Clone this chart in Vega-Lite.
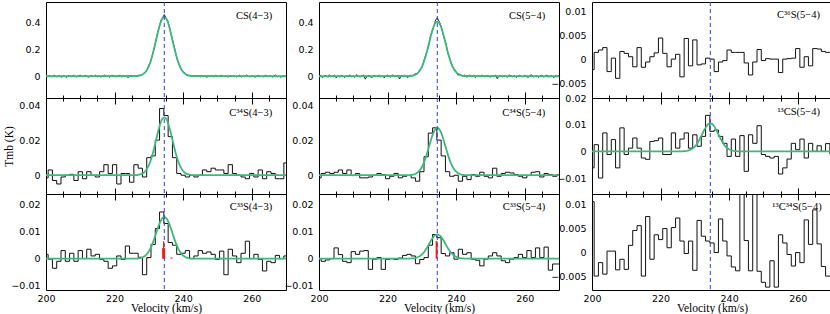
{
"$schema": "https://vega.github.io/schema/vega-lite/v6.json",
"padding": {"left": 3, "top": 1, "right": 0, "bottom": 0},
"config": {
 "view": {"stroke": "#000", "strokeWidth": 1, "fill": "transparent"},
 "axis": {"zindex": 1, "grid": false, "domain": false, "ticks": false, "tickColor": "#000", "tickWidth": 1, "labelFont": "DejaVu Sans", "labelFontSize": 9.5, "labelColor": "#000", "titleFont": "Liberation Serif", "titleFontSize": 11.5, "titleFontWeight": "normal", "titleColor": "#000", "labelOverlap": false, "labelBound": false}
},
"datasets": {
 "cs43": [{"v":200,"t":0.0045},{"v":200.5,"t":-0.003},{"v":201,"t":0.0075},{"v":201.5,"t":-0.006},{"v":202,"t":0.0015},{"v":202.5,"t":0.009},{"v":203,"t":-0.0045},{"v":203.5,"t":-0.0015},{"v":204,"t":0.006},{"v":204.5,"t":-0.0075},{"v":205,"t":0.003},{"v":205.5,"t":0},{"v":206,"t":-0.009},{"v":206.5,"t":0.0045},{"v":207,"t":0.0015},{"v":207.5,"t":-0.003},{"v":208,"t":0.0075},{"v":208.5,"t":-0.0015},{"v":209,"t":-0.006},{"v":209.5,"t":0.003},{"v":210,"t":0.009},{"v":210.5,"t":-0.0045},{"v":211,"t":0},{"v":211.5,"t":0.006},{"v":212,"t":-0.003},{"v":212.5,"t":-0.0075},{"v":213,"t":0.0045},{"v":213.5,"t":0.0015},{"v":214,"t":-0.0015},{"v":214.5,"t":0.0075},{"v":215,"t":-0.0045},{"v":215.5,"t":0.003},{"v":216,"t":-0.006},{"v":216.5,"t":0},{"v":217,"t":0.009},{"v":217.5,"t":-0.003},{"v":218,"t":0.0015},{"v":218.5,"t":-0.0075},{"v":219,"t":0.0045},{"v":219.5,"t":0.006},{"v":220,"t":-0.0015},{"v":220.5,"t":-0.0045},{"v":221,"t":0.003},{"v":221.5,"t":0.0075},{"v":222,"t":-0.006},{"v":222.5,"t":0},{"v":223,"t":0.0045},{"v":223.5,"t":-0.003},{"v":224,"t":-0.009},{"v":224.5,"t":0.0015},{"v":225,"t":0.006},{"v":225.5,"t":-0.0015},{"v":226,"t":0.003},{"v":226.5,"t":-0.001},{"v":227,"t":0.008},{"v":227.5,"t":0.006},{"v":228,"t":0.009},{"v":228.5,"t":0.023},{"v":229,"t":0.029},{"v":229.5,"t":0.052},{"v":230,"t":0.084},{"v":230.5,"t":0.107},{"v":231,"t":0.157},{"v":231.5,"t":0.206},{"v":232,"t":0.261},{"v":232.5,"t":0.322},{"v":233,"t":0.367},{"v":233.5,"t":0.418},{"v":234,"t":0.438},{"v":234.5,"t":0.462},{"v":235,"t":0.436},{"v":235.5,"t":0.416},{"v":236,"t":0.37},{"v":236.5,"t":0.312},{"v":237,"t":0.264},{"v":237.5,"t":0.211},{"v":238,"t":0.154},{"v":238.5,"t":0.109},{"v":239,"t":0.082},{"v":239.5,"t":0.051},{"v":240,"t":0.031},{"v":240.5,"t":0.026},{"v":241,"t":0.007},{"v":241.5,"t":0.007},{"v":242,"t":0.006},{"v":242.5,"t":-0.003},{"v":243,"t":0.003},{"v":243.5,"t":-0.0015},{"v":244,"t":0},{"v":244.5,"t":0.006},{"v":245,"t":-0.0045},{"v":245.5,"t":0.0075},{"v":246,"t":-0.003},{"v":246.5,"t":0.0015},{"v":247,"t":-0.009},{"v":247.5,"t":0.0045},{"v":248,"t":0},{"v":248.5,"t":0.003},{"v":249,"t":-0.006},{"v":249.5,"t":0.0075},{"v":250,"t":-0.0015},{"v":250.5,"t":-0.0045},{"v":251,"t":0.009},{"v":251.5,"t":0},{"v":252,"t":-0.003},{"v":252.5,"t":0.006},{"v":253,"t":-0.0075},{"v":253.5,"t":0.0015},{"v":254,"t":0.0045},{"v":254.5,"t":-0.0015},{"v":255,"t":0.003},{"v":255.5,"t":-0.006},{"v":256,"t":0},{"v":256.5,"t":0.0075},{"v":257,"t":-0.0045},{"v":257.5,"t":0.0015},{"v":258,"t":-0.003},{"v":258.5,"t":0.009},{"v":259,"t":-0.0015},{"v":259.5,"t":-0.006},{"v":260,"t":0.0045},{"v":260.5,"t":0},{"v":261,"t":-0.0075},{"v":261.5,"t":0.003},{"v":262,"t":0.006},{"v":262.5,"t":-0.003},{"v":263,"t":0.0015},{"v":263.5,"t":-0.0045},{"v":264,"t":0.0075},{"v":264.5,"t":0},{"v":265,"t":-0.0015},{"v":265.5,"t":0.0045},{"v":266,"t":-0.006},{"v":266.5,"t":0.003},{"v":267,"t":0.009},{"v":267.5,"t":-0.003},{"v":268,"t":0},{"v":268.5,"t":-0.0075},{"v":269,"t":0.0045},{"v":269.5,"t":0.0015},{"v":270,"t":-0.0015}],
 "cs54": [{"v":200,"t":-0.004},{"v":200.5,"t":0.008},{"v":201,"t":-0.01},{"v":201.5,"t":0.002},{"v":202,"t":0.006},{"v":202.5,"t":-0.007},{"v":203,"t":0.011},{"v":203.5,"t":-0.003},{"v":204,"t":0},{"v":204.5,"t":0.009},{"v":205,"t":-0.012},{"v":205.5,"t":0.004},{"v":206,"t":-0.006},{"v":206.5,"t":0.007},{"v":207,"t":0.001},{"v":207.5,"t":-0.009},{"v":208,"t":0.005},{"v":208.5,"t":-0.002},{"v":209,"t":0.01},{"v":209.5,"t":-0.005},{"v":210,"t":0.003},{"v":210.5,"t":-0.008},{"v":211,"t":0.012},{"v":211.5,"t":-0.001},{"v":212,"t":-0.006},{"v":212.5,"t":0.004},{"v":213,"t":0.009},{"v":213.5,"t":-0.022},{"v":214,"t":0.002},{"v":214.5,"t":0.006},{"v":215,"t":-0.004},{"v":215.5,"t":-0.009},{"v":216,"t":0.007},{"v":216.5,"t":0},{"v":217,"t":-0.003},{"v":217.5,"t":0.01},{"v":218,"t":-0.007},{"v":218.5,"t":0.005},{"v":219,"t":-0.012},{"v":219.5,"t":0.003},{"v":220,"t":0.008},{"v":220.5,"t":-0.002},{"v":221,"t":-0.006},{"v":221.5,"t":0.011},{"v":222,"t":-0.004},{"v":222.5,"t":0.001},{"v":223,"t":0.007},{"v":223.5,"t":-0.02},{"v":224,"t":0.004},{"v":224.5,"t":-0.001},{"v":225,"t":0.009},{"v":225.5,"t":-0.005},{"v":226,"t":-0.008},{"v":226.5,"t":0.008},{"v":227,"t":0.005},{"v":227.5,"t":0.003},{"v":228,"t":0.02},{"v":228.5,"t":0.012},{"v":229,"t":0.03},{"v":229.5,"t":0.052},{"v":230,"t":0.062},{"v":230.5,"t":0.106},{"v":231,"t":0.149},{"v":231.5,"t":0.186},{"v":232,"t":0.227},{"v":232.5,"t":0.298},{"v":233,"t":0.338},{"v":233.5,"t":0.372},{"v":234,"t":0.42},{"v":234.5,"t":0.438},{"v":235,"t":0.412},{"v":235.5,"t":0.385},{"v":236,"t":0.336},{"v":236.5,"t":0.285},{"v":237,"t":0.25},{"v":237.5,"t":0.18},{"v":238,"t":0.144},{"v":238.5,"t":0.102},{"v":239,"t":0.065},{"v":239.5,"t":0.054},{"v":240,"t":0.034},{"v":240.5,"t":0.008},{"v":241,"t":0.015},{"v":241.5,"t":0.007},{"v":242,"t":0},{"v":242.5,"t":0.01},{"v":243,"t":-0.007},{"v":243.5,"t":-0.002},{"v":244,"t":0.011},{"v":244.5,"t":-0.004},{"v":245,"t":0.006},{"v":245.5,"t":-0.009},{"v":246,"t":0},{"v":246.5,"t":0.003},{"v":247,"t":-0.006},{"v":247.5,"t":0.01},{"v":248,"t":-0.001},{"v":248.5,"t":-0.005},{"v":249,"t":0.007},{"v":249.5,"t":0.002},{"v":250,"t":-0.008},{"v":250.5,"t":0.005},{"v":251,"t":-0.003},{"v":251.5,"t":0.009},{"v":252,"t":-0.018},{"v":252.5,"t":0.004},{"v":253,"t":0.001},{"v":253.5,"t":-0.006},{"v":254,"t":0.008},{"v":254.5,"t":-0.002},{"v":255,"t":-0.007},{"v":255.5,"t":0.01},{"v":256,"t":0.003},{"v":256.5,"t":-0.004},{"v":257,"t":0.006},{"v":257.5,"t":-0.01},{"v":258,"t":0.002},{"v":258.5,"t":0.007},{"v":259,"t":-0.001},{"v":259.5,"t":-0.005},{"v":260,"t":0.009},{"v":260.5,"t":-0.003},{"v":261,"t":-0.008},{"v":261.5,"t":0.004},{"v":262,"t":0.011},{"v":262.5,"t":-0.006},{"v":263,"t":0},{"v":263.5,"t":0.005},{"v":264,"t":-0.009},{"v":264.5,"t":0.002},{"v":265,"t":0.007},{"v":265.5,"t":-0.004},{"v":266,"t":-0.002},{"v":266.5,"t":0.01},{"v":267,"t":-0.007},{"v":267.5,"t":0.003},{"v":268,"t":0.001},{"v":268.5,"t":-0.011},{"v":269,"t":0.006},{"v":269.5,"t":-0.003},{"v":270,"t":0.008}],
 "c34_43": [{"v":200,"t":-0.0015},{"v":201.25,"t":0.003},{"v":202.5,"t":-0.003},{"v":203.75,"t":-0.005},{"v":205,"t":-0.001},{"v":206.25,"t":0},{"v":207.5,"t":0.0005},{"v":208.75,"t":-0.003},{"v":210,"t":0.002},{"v":211.25,"t":-0.002},{"v":212.5,"t":0.002},{"v":213.75,"t":0},{"v":215,"t":-0.001},{"v":216.25,"t":0.002},{"v":217.5,"t":0.006},{"v":218.75,"t":0.001},{"v":220,"t":0.006},{"v":221.25,"t":-0.005},{"v":222.5,"t":0.001},{"v":223.75,"t":0.001},{"v":225,"t":-0.004},{"v":226.25,"t":0.006},{"v":227.5,"t":0.004},{"v":228.75,"t":-0.001},{"v":230,"t":0.01},{"v":231.25,"t":0.011},{"v":232.5,"t":0.02},{"v":233.75,"t":0.038},{"v":235,"t":0.034},{"v":236.25,"t":0.022},{"v":237.5,"t":0.01},{"v":238.75,"t":0.001},{"v":240,"t":0},{"v":241.25,"t":-0.001},{"v":242.5,"t":0},{"v":243.75,"t":-0.001},{"v":245,"t":0},{"v":246.25,"t":0.003},{"v":247.5,"t":0.002},{"v":248.75,"t":0.004},{"v":250,"t":0.003},{"v":251.25,"t":0.003},{"v":252.5,"t":0.001},{"v":253.75,"t":0.006},{"v":255,"t":0.001},{"v":256.25,"t":0},{"v":257.5,"t":-0.001},{"v":258.75,"t":-0.002},{"v":260,"t":0.001},{"v":261.25,"t":-0.001},{"v":262.5,"t":0.003},{"v":263.75,"t":-0.002},{"v":265,"t":0.002},{"v":266.25,"t":0.001},{"v":267.5,"t":-0.002},{"v":268.75,"t":-0.002},{"v":270,"t":0.007}],
 "c34_54": [{"v":200,"t":-0.0015},{"v":201.25,"t":0.001},{"v":202.5,"t":0.0017},{"v":203.75,"t":0.001},{"v":205,"t":0.0017},{"v":206.25,"t":0.003},{"v":207.5,"t":0.001},{"v":208.75,"t":0.003},{"v":210,"t":-0.0002},{"v":211.25,"t":0.001},{"v":212.5,"t":-0.0015},{"v":213.75,"t":-0.0015},{"v":215,"t":-0.001},{"v":216.25,"t":0},{"v":217.5,"t":0.001},{"v":218.75,"t":0.0004},{"v":220,"t":-0.002},{"v":221.25,"t":-0.0006},{"v":222.5,"t":0.001},{"v":223.75,"t":-0.0015},{"v":225,"t":-0.0006},{"v":226.25,"t":-0.0002},{"v":227.5,"t":-0.0015},{"v":228.75,"t":-0.0034},{"v":230,"t":0.002},{"v":231.25,"t":0.0105},{"v":232.5,"t":0.024},{"v":233.75,"t":0.027},{"v":235,"t":0.02},{"v":236.25,"t":0.011},{"v":237.5,"t":0.002},{"v":238.75,"t":-0.0006},{"v":240,"t":0},{"v":241.25,"t":-0.0034},{"v":242.5,"t":-0.0006},{"v":243.75,"t":-0.0025},{"v":245,"t":0.0004},{"v":246.25,"t":-0.0006},{"v":247.5,"t":0.0017},{"v":248.75,"t":-0.0006},{"v":250,"t":-0.0015},{"v":251.25,"t":0.004},{"v":252.5,"t":-0.0006},{"v":253.75,"t":0.001},{"v":255,"t":0.0017},{"v":256.25,"t":0.0013},{"v":257.5,"t":0.0004},{"v":258.75,"t":-0.0006},{"v":260,"t":-0.0015},{"v":261.25,"t":-0.0002},{"v":262.5,"t":0.0017},{"v":263.75,"t":0.002},{"v":265,"t":-0.001},{"v":266.25,"t":0.001},{"v":267.5,"t":0.0004},{"v":268.75,"t":-0.0006},{"v":270,"t":0.0004}],
 "c33_43": [{"v":200,"t":0.0016},{"v":201.25,"t":-0.0002},{"v":202.5,"t":-0.0036},{"v":203.75,"t":-0.001},{"v":205,"t":0.003},{"v":206.25,"t":-0.001},{"v":207.5,"t":0.002},{"v":208.75,"t":-0.001},{"v":210,"t":0.003},{"v":211.25,"t":0},{"v":212.5,"t":0.0035},{"v":213.75,"t":0.001},{"v":215,"t":0.0016},{"v":216.25,"t":-0.0003},{"v":217.5,"t":-0.001},{"v":218.75,"t":-0.0036},{"v":220,"t":-0.0027},{"v":221.25,"t":0.001},{"v":222.5,"t":-0.0003},{"v":223.75,"t":0.0047},{"v":225,"t":0.002},{"v":226.25,"t":0.002},{"v":227.5,"t":0.0005},{"v":228.75,"t":-0.006},{"v":230,"t":0.0004},{"v":231.25,"t":0.0053},{"v":232.5,"t":0.0112},{"v":233.75,"t":0.0174},{"v":235,"t":0.0131},{"v":236.25,"t":0.006},{"v":237.5,"t":0.005},{"v":238.75,"t":0.0016},{"v":240,"t":0.002},{"v":241.25,"t":0.003},{"v":242.5,"t":0},{"v":243.75,"t":0.001},{"v":245,"t":0.003},{"v":246.25,"t":0.002},{"v":247.5,"t":0.0025},{"v":248.75,"t":0.0016},{"v":250,"t":-0.0003},{"v":251.25,"t":0.0028},{"v":252.5,"t":-0.006},{"v":253.75,"t":0.0035},{"v":255,"t":0.001},{"v":256.25,"t":-0.0015},{"v":257.5,"t":0.002},{"v":258.75,"t":0.0065},{"v":260,"t":0},{"v":261.25,"t":0.0016},{"v":262.5,"t":-0.0003},{"v":263.75,"t":-0.0046},{"v":265,"t":-0.001},{"v":266.25,"t":-0.0015},{"v":267.5,"t":0.0012},{"v":268.75,"t":0},{"v":270,"t":0.001}],
 "c33_54": [{"v":200,"t":0},{"v":201.25,"t":-0.001},{"v":202.5,"t":-0.0005},{"v":203.75,"t":0},{"v":205,"t":0.004},{"v":206.25,"t":0.0015},{"v":207.5,"t":-0.001},{"v":208.75,"t":-0.0015},{"v":210,"t":0.0026},{"v":211.25,"t":0.0016},{"v":212.5,"t":0.0028},{"v":213.75,"t":0.003},{"v":215,"t":-0.004},{"v":216.25,"t":-0.0002},{"v":217.5,"t":0.0004},{"v":218.75,"t":-0.004},{"v":220,"t":-0.0003},{"v":221.25,"t":0},{"v":222.5,"t":-0.0003},{"v":223.75,"t":0.0002},{"v":225,"t":0.0012},{"v":226.25,"t":0.0016},{"v":227.5,"t":0.001},{"v":228.75,"t":-0.0019},{"v":230,"t":-0.0003},{"v":231.25,"t":0.0004},{"v":232.5,"t":0.005},{"v":233.75,"t":0.009},{"v":235,"t":0.0078},{"v":236.25,"t":0.0019},{"v":237.5,"t":0.001},{"v":238.75,"t":0.0022},{"v":240,"t":-0.0002},{"v":241.25,"t":0.0035},{"v":242.5,"t":0.0016},{"v":243.75,"t":0.0022},{"v":245,"t":-0.0002},{"v":246.25,"t":-0.0006},{"v":247.5,"t":-0.0027},{"v":248.75,"t":-0.0002},{"v":250,"t":0.001},{"v":251.25,"t":0.0022},{"v":252.5,"t":0.001},{"v":253.75,"t":-0.0008},{"v":255,"t":-0.0015},{"v":256.25,"t":-0.0002},{"v":257.5,"t":0.0004},{"v":258.75,"t":0.0016},{"v":260,"t":0.0004},{"v":261.25,"t":0.003},{"v":262.5,"t":0.0004},{"v":263.75,"t":0.004},{"v":265,"t":0.0004},{"v":266.25,"t":0.0043},{"v":267.5,"t":-0.0043},{"v":268.75,"t":-0.002},{"v":270,"t":-0.002}],
 "c36": [{"v":200,"t":-0.0022},{"v":201.25,"t":0.0014},{"v":202.5,"t":0.0019},{"v":203.75,"t":0.0024},{"v":205,"t":-0.0026},{"v":206.25,"t":0.0002},{"v":207.5,"t":-0.004},{"v":208.75,"t":0.0016},{"v":210,"t":0.0012},{"v":211.25,"t":0.0005},{"v":212.5,"t":-0.0016},{"v":213.75,"t":0.0024},{"v":215,"t":-0.0017},{"v":216.25,"t":-0.0006},{"v":217.5,"t":0.0005},{"v":218.75,"t":0.0013},{"v":220,"t":0.0044},{"v":221.25,"t":0.0012},{"v":222.5,"t":-0.0016},{"v":223.75,"t":0},{"v":225,"t":0.001},{"v":226.25,"t":-0.0037},{"v":227.5,"t":0.0043},{"v":228.75,"t":-0.0014},{"v":230,"t":0.004},{"v":231.25,"t":-0.0012},{"v":232.5,"t":-0.001},{"v":233.75,"t":0.0002},{"v":235,"t":0},{"v":236.25,"t":-0.0026},{"v":237.5,"t":-0.0006},{"v":238.75,"t":-0.0003},{"v":240,"t":0.0019},{"v":241.25,"t":0.0014},{"v":242.5,"t":0.0014},{"v":243.75,"t":0.0014},{"v":245,"t":-0.0008},{"v":246.25,"t":-0.0033},{"v":247.5,"t":-0.0006},{"v":248.75,"t":0.002},{"v":250,"t":-0.0003},{"v":251.25,"t":0.0001},{"v":252.5,"t":0},{"v":253.75,"t":0},{"v":255,"t":-0.0028},{"v":256.25,"t":0},{"v":257.5,"t":0.0001},{"v":258.75,"t":0.0002},{"v":260,"t":0.0022},{"v":261.25,"t":-0.0017},{"v":262.5,"t":0.0005},{"v":263.75,"t":-0.0014},{"v":265,"t":0.0022},{"v":266.25,"t":0.0021},{"v":267.5,"t":0.0016},{"v":268.75,"t":0.0014},{"v":270,"t":0.0014}],
 "c13": [{"v":200,"t":-0.0062},{"v":201.25,"t":0.0025},{"v":202.5,"t":-0.01},{"v":203.75,"t":0.0069},{"v":205,"t":-0.0012},{"v":206.25,"t":0.0044},{"v":207.5,"t":-0.0062},{"v":208.75,"t":0.0088},{"v":210,"t":-0.0012},{"v":211.25,"t":0.0012},{"v":212.5,"t":0.005},{"v":213.75,"t":0.0012},{"v":215,"t":-0.0025},{"v":216.25,"t":-0.003},{"v":217.5,"t":0.0037},{"v":218.75,"t":0.004},{"v":220,"t":0.005},{"v":221.25,"t":-0.0012},{"v":222.5,"t":-0.0012},{"v":223.75,"t":0.0069},{"v":225,"t":0.0012},{"v":226.25,"t":0.0046},{"v":227.5,"t":0.0069},{"v":228.75,"t":0.0012},{"v":230,"t":0.0062},{"v":231.25,"t":0.0019},{"v":232.5,"t":0.0056},{"v":233.75,"t":0.0135},{"v":235,"t":0.0075},{"v":236.25,"t":0.008},{"v":237.5,"t":0.0056},{"v":238.75,"t":0.003},{"v":240,"t":-0.0019},{"v":241.25,"t":0.0046},{"v":242.5,"t":-0.0019},{"v":243.75,"t":0.0059},{"v":245,"t":-0.0075},{"v":246.25,"t":0.0062},{"v":247.5,"t":0.003},{"v":248.75,"t":0.0096},{"v":250,"t":-0.0012},{"v":251.25,"t":-0.0019},{"v":252.5,"t":-0.0025},{"v":253.75,"t":-0.0019},{"v":255,"t":-0.0085},{"v":256.25,"t":-0.0062},{"v":257.5,"t":-0.0029},{"v":258.75,"t":0.003},{"v":260,"t":0.0006},{"v":261.25,"t":0.0046},{"v":262.5,"t":-0.0025},{"v":263.75,"t":0.003},{"v":265,"t":0},{"v":266.25,"t":0.0021},{"v":267.5,"t":0},{"v":268.75,"t":0.0029},{"v":270,"t":-0.001}],
 "c1334": [{"v":200,"t":0.0105},{"v":201.25,"t":-0.005},{"v":202.5,"t":-0.0022},{"v":203.75,"t":-0.0046},{"v":205,"t":0.0002},{"v":206.25,"t":0.0002},{"v":207.5,"t":-0.0037},{"v":208.75,"t":-0.0015},{"v":210,"t":-0.0036},{"v":211.25,"t":0.0014},{"v":212.5,"t":0.0045},{"v":213.75,"t":0.0055},{"v":215,"t":-0.005},{"v":216.25,"t":0.0074},{"v":217.5,"t":-0.0015},{"v":218.75,"t":0.0036},{"v":220,"t":0.0026},{"v":221.25,"t":0.0049},{"v":222.5,"t":0.0009},{"v":223.75,"t":0.0051},{"v":225,"t":0.0071},{"v":226.25,"t":0.0023},{"v":227.5,"t":-0.0003},{"v":228.75,"t":0.0023},{"v":230,"t":-0.0038},{"v":231.25,"t":0.0066},{"v":232.5,"t":0.0033},{"v":233.75,"t":0.0023},{"v":235,"t":0.0019},{"v":236.25,"t":-0.0001},{"v":237.5,"t":0.0069},{"v":238.75,"t":0.0023},{"v":240,"t":-0.0008},{"v":241.25,"t":-0.0031},{"v":242.5,"t":-0.0039},{"v":243.75,"t":0.015},{"v":245,"t":0.0024},{"v":246.25,"t":-0.0039},{"v":247.5,"t":0.015},{"v":248.75,"t":-0.004},{"v":250,"t":-0.0063},{"v":251.25,"t":-0.0073},{"v":252.5,"t":-0.0018},{"v":253.75,"t":-0.0073},{"v":255,"t":0.0036},{"v":256.25,"t":0.0019},{"v":257.5,"t":-0.0005},{"v":258.75,"t":-0.0029},{"v":260,"t":-0.0001},{"v":261.25,"t":-0.0022},{"v":262.5,"t":0.0067},{"v":263.75,"t":0.0016},{"v":265,"t":0.0088},{"v":266.25,"t":0.0017},{"v":267.5,"t":-0.003},{"v":268.75,"t":-0.005},{"v":270,"t":-0.005}],
 "f_cs43": [{"v":200,"t":0},{"v":226.5,"t":0.0017},{"v":227,"t":0.0034},{"v":227.5,"t":0.0063},{"v":228,"t":0.0113},{"v":228.5,"t":0.0194},{"v":229,"t":0.0321},{"v":229.5,"t":0.0506},{"v":230,"t":0.0764},{"v":230.5,"t":0.1105},{"v":231,"t":0.153},{"v":231.5,"t":0.2028},{"v":232,"t":0.2575},{"v":232.5,"t":0.313},{"v":233,"t":0.3644},{"v":233.5,"t":0.4062},{"v":234,"t":0.4335},{"v":234.5,"t":0.443},{"v":235,"t":0.4335},{"v":235.5,"t":0.4062},{"v":236,"t":0.3644},{"v":236.5,"t":0.313},{"v":237,"t":0.2575},{"v":237.5,"t":0.2028},{"v":238,"t":0.153},{"v":238.5,"t":0.1105},{"v":239,"t":0.0764},{"v":239.5,"t":0.0506},{"v":240,"t":0.0321},{"v":240.5,"t":0.0194},{"v":241,"t":0.0113},{"v":241.5,"t":0.0063},{"v":242,"t":0.0034},{"v":242.5,"t":0.0017},{"v":270,"t":0}],
 "f_cs54": [{"v":200,"t":0},{"v":226.5,"t":0.0016},{"v":227,"t":0.0031},{"v":227.5,"t":0.0058},{"v":228,"t":0.0105},{"v":228.5,"t":0.018},{"v":229,"t":0.0297},{"v":229.5,"t":0.0468},{"v":230,"t":0.0707},{"v":230.5,"t":0.1023},{"v":231,"t":0.1416},{"v":231.5,"t":0.1877},{"v":232,"t":0.2383},{"v":232.5,"t":0.2897},{"v":233,"t":0.3373},{"v":233.5,"t":0.376},{"v":234,"t":0.4012},{"v":234.5,"t":0.41},{"v":235,"t":0.4012},{"v":235.5,"t":0.376},{"v":236,"t":0.3373},{"v":236.5,"t":0.2897},{"v":237,"t":0.2383},{"v":237.5,"t":0.1877},{"v":238,"t":0.1416},{"v":238.5,"t":0.1023},{"v":239,"t":0.0707},{"v":239.5,"t":0.0468},{"v":240,"t":0.0297},{"v":240.5,"t":0.018},{"v":241,"t":0.0105},{"v":241.5,"t":0.0058},{"v":242,"t":0.0031},{"v":242.5,"t":0.0016},{"v":270,"t":0}],
 "f_c34_43": [{"v":200,"t":0},{"v":226.5,"t":0.0001},{"v":227,"t":0.0003},{"v":227.5,"t":0.0005},{"v":228,"t":0.0008},{"v":228.5,"t":0.0014},{"v":229,"t":0.0024},{"v":229.5,"t":0.0038},{"v":230,"t":0.0057},{"v":230.5,"t":0.0082},{"v":231,"t":0.0114},{"v":231.5,"t":0.0151},{"v":232,"t":0.0192},{"v":232.5,"t":0.0233},{"v":233,"t":0.0271},{"v":233.5,"t":0.0303},{"v":234,"t":0.0323},{"v":234.5,"t":0.033},{"v":235,"t":0.0323},{"v":235.5,"t":0.0303},{"v":236,"t":0.0271},{"v":236.5,"t":0.0233},{"v":237,"t":0.0192},{"v":237.5,"t":0.0151},{"v":238,"t":0.0114},{"v":238.5,"t":0.0082},{"v":239,"t":0.0057},{"v":239.5,"t":0.0038},{"v":240,"t":0.0024},{"v":240.5,"t":0.0014},{"v":241,"t":0.0008},{"v":241.5,"t":0.0005},{"v":242,"t":0.0003},{"v":242.5,"t":0.0001},{"v":270,"t":0}],
 "f_c34_54": [{"v":200,"t":0},{"v":226.5,"t":0.0001},{"v":227,"t":0.0002},{"v":227.5,"t":0.0004},{"v":228,"t":0.0007},{"v":228.5,"t":0.0012},{"v":229,"t":0.002},{"v":229.5,"t":0.0031},{"v":230,"t":0.0047},{"v":230.5,"t":0.0067},{"v":231,"t":0.0093},{"v":231.5,"t":0.0124},{"v":232,"t":0.0157},{"v":232.5,"t":0.0191},{"v":233,"t":0.0222},{"v":233.5,"t":0.0248},{"v":234,"t":0.0264},{"v":234.5,"t":0.027},{"v":235,"t":0.0264},{"v":235.5,"t":0.0248},{"v":236,"t":0.0222},{"v":236.5,"t":0.0191},{"v":237,"t":0.0157},{"v":237.5,"t":0.0124},{"v":238,"t":0.0093},{"v":238.5,"t":0.0067},{"v":239,"t":0.0047},{"v":239.5,"t":0.0031},{"v":240,"t":0.002},{"v":240.5,"t":0.0012},{"v":241,"t":0.0007},{"v":241.5,"t":0.0004},{"v":242,"t":0.0002},{"v":242.5,"t":0.0001},{"v":270,"t":0}],
 "f_c33_43": [{"v":200,"t":0},{"v":226.5,"t":0},{"v":227,"t":0.0001},{"v":227.5,"t":0.0002},{"v":228,"t":0.0004},{"v":228.5,"t":0.0007},{"v":229,"t":0.0011},{"v":229.5,"t":0.0018},{"v":230,"t":0.0027},{"v":230.5,"t":0.0039},{"v":231,"t":0.0054},{"v":231.5,"t":0.0071},{"v":232,"t":0.009},{"v":232.5,"t":0.011},{"v":233,"t":0.0128},{"v":233.5,"t":0.0142},{"v":234,"t":0.0152},{"v":234.5,"t":0.0155},{"v":235,"t":0.0152},{"v":235.5,"t":0.0142},{"v":236,"t":0.0128},{"v":236.5,"t":0.011},{"v":237,"t":0.009},{"v":237.5,"t":0.0071},{"v":238,"t":0.0054},{"v":238.5,"t":0.0039},{"v":239,"t":0.0027},{"v":239.5,"t":0.0018},{"v":240,"t":0.0011},{"v":240.5,"t":0.0007},{"v":241,"t":0.0004},{"v":241.5,"t":0.0002},{"v":242,"t":0.0001},{"v":242.5,"t":0},{"v":270,"t":0}],
 "f_c33_54": [{"v":200,"t":0},{"v":226.5,"t":0},{"v":227,"t":0.0001},{"v":227.5,"t":0.0001},{"v":228,"t":0.0002},{"v":228.5,"t":0.0004},{"v":229,"t":0.0007},{"v":229.5,"t":0.001},{"v":230,"t":0.0016},{"v":230.5,"t":0.0022},{"v":231,"t":0.0031},{"v":231.5,"t":0.0041},{"v":232,"t":0.0052},{"v":232.5,"t":0.0064},{"v":233,"t":0.0074},{"v":233.5,"t":0.0083},{"v":234,"t":0.0088},{"v":234.5,"t":0.009},{"v":235,"t":0.0088},{"v":235.5,"t":0.0083},{"v":236,"t":0.0074},{"v":236.5,"t":0.0064},{"v":237,"t":0.0052},{"v":237.5,"t":0.0041},{"v":238,"t":0.0031},{"v":238.5,"t":0.0022},{"v":239,"t":0.0016},{"v":239.5,"t":0.001},{"v":240,"t":0.0007},{"v":240.5,"t":0.0004},{"v":241,"t":0.0002},{"v":241.5,"t":0.0001},{"v":242,"t":0.0001},{"v":242.5,"t":0},{"v":270,"t":0}],
 "f_c13": [{"v":200,"t":0},{"v":226.5,"t":0},{"v":227,"t":0.0001},{"v":227.5,"t":0.0001},{"v":228,"t":0.0003},{"v":228.5,"t":0.0005},{"v":229,"t":0.0008},{"v":229.5,"t":0.0012},{"v":230,"t":0.0018},{"v":230.5,"t":0.0026},{"v":231,"t":0.0036},{"v":231.5,"t":0.0048},{"v":232,"t":0.0061},{"v":232.5,"t":0.0074},{"v":233,"t":0.0086},{"v":233.5,"t":0.0096},{"v":234,"t":0.0103},{"v":234.5,"t":0.0105},{"v":235,"t":0.0103},{"v":235.5,"t":0.0096},{"v":236,"t":0.0086},{"v":236.5,"t":0.0074},{"v":237,"t":0.0061},{"v":237.5,"t":0.0048},{"v":238,"t":0.0036},{"v":238.5,"t":0.0026},{"v":239,"t":0.0018},{"v":239.5,"t":0.0012},{"v":240,"t":0.0008},{"v":240.5,"t":0.0005},{"v":241,"t":0.0003},{"v":241.5,"t":0.0001},{"v":242,"t":0.0001},{"v":242.5,"t":0},{"v":270,"t":0}],
 "red43a": [{"v":234.3,"t":0.0065}],
 "red43b": [{"v":234.3,"t":0.0039}],
 "red43c": [{"v":229.6,"t":0.0004},{"v":236.6,"t":0.0004}],
 "red54": [{"v":234.3,"t":0.0065}]
},
"columns": 3,
"spacing": {"row": 0, "column": 33},
"bounds": "flush",
"concat": [
  {"width": 240, "height": 96, "data": {"name": "cs43"},
   "resolve": {"axis": {"x": "independent", "y": "independent"}},
   "layer": [
    {"mark": {"type": "line", "color": "#111", "strokeWidth": 0.9, "clip": true},
     "encoding": {"x": {"field": "v", "type": "quantitative", "scale": {"domain": [200, 270], "nice": false, "zero": false}, "axis": {"orient": "bottom", "values": [200, 220, 240, 260], "ticks": true, "tickSize": 6, "labels": false, "title": null}},
                  "y": {"field": "t", "type": "quantitative", "scale": {"domain": [-0.163, 0.556], "nice": false, "zero": false}, "axis": {"orient": "left", "values": [0, 0.2, 0.4], "labelPadding": 6, "format": "~r", "title": null}}}},
    {"mark": {"type": "line", "strokeOpacity": 0}, "encoding": {"x": {"field": "v", "type": "quantitative", "axis": {"orient": "bottom", "values": [205, 210, 215, 225, 230, 235, 245, 250, 255, 265], "ticks": true, "tickSize": 3, "labels": false, "title": null}}, "y": {"field": "t", "type": "quantitative", "axis": null}}},
    {"data": {"name": "f_cs43"}, "mark": {"type": "line", "interpolate": "monotone", "color": "#3db87a", "strokeWidth": 1.8}, "encoding": {"x": {"field": "v", "type": "quantitative", "axis": null}, "y": {"field": "t", "type": "quantitative", "axis": null}}},
    {"data": {"values": [{}]}, "mark": {"type": "rule", "color": "#2f3fe0", "strokeDash": [4, 3], "strokeWidth": 1}, "encoding": {"x": {"datum": 234.5, "type": "quantitative", "axis": null}}},
    {"data": {"values": [{}]}, "mark": {"type": "text", "text": "CS(4−3)", "align": "right", "baseline": "middle", "dy": 14, "font": "Liberation Serif", "fontSize": 10.5, "color": "#000"}, "encoding": {"x": {"datum": 266, "type": "quantitative", "axis": null}, "y": {"datum": 0.556, "type": "quantitative", "axis": null}}}
   ]},
  {"width": 240, "height": 96, "data": {"name": "cs54"},
   "resolve": {"axis": {"x": "independent", "y": "independent"}},
   "layer": [
    {"mark": {"type": "line", "color": "#111", "strokeWidth": 0.9, "clip": true},
     "encoding": {"x": {"field": "v", "type": "quantitative", "scale": {"domain": [200, 270], "nice": false, "zero": false}, "axis": {"orient": "bottom", "values": [200, 220, 240, 260], "ticks": true, "tickSize": 6, "labels": false, "title": null}},
                  "y": {"field": "t", "type": "quantitative", "scale": {"domain": [-0.163, 0.556], "nice": false, "zero": false}, "axis": {"orient": "left", "values": [0, 0.2, 0.4], "labelPadding": 6, "format": "~r", "title": null}}}},
    {"mark": {"type": "line", "strokeOpacity": 0}, "encoding": {"x": {"field": "v", "type": "quantitative", "axis": {"orient": "bottom", "values": [205, 210, 215, 225, 230, 235, 245, 250, 255, 265], "ticks": true, "tickSize": 3, "labels": false, "title": null}}, "y": {"field": "t", "type": "quantitative", "axis": null}}},
    {"data": {"name": "f_cs54"}, "mark": {"type": "line", "interpolate": "monotone", "color": "#3db87a", "strokeWidth": 1.8}, "encoding": {"x": {"field": "v", "type": "quantitative", "axis": null}, "y": {"field": "t", "type": "quantitative", "axis": null}}},
    {"data": {"values": [{}]}, "mark": {"type": "rule", "color": "#2f3fe0", "strokeDash": [4, 3], "strokeWidth": 1}, "encoding": {"x": {"datum": 234.5, "type": "quantitative", "axis": null}}},
    {"data": {"values": [{}]}, "mark": {"type": "text", "text": "CS(5−4)", "align": "right", "baseline": "middle", "dy": 14, "font": "Liberation Serif", "fontSize": 10.5, "color": "#000"}, "encoding": {"x": {"datum": 266, "type": "quantitative", "axis": null}, "y": {"datum": 0.556, "type": "quantitative", "axis": null}}}
   ]},
  {"width": 240, "height": 96, "data": {"name": "c36"},
   "resolve": {"axis": {"x": "independent", "y": "independent"}},
   "layer": [
    {"mark": {"type": "line", "interpolate": "step", "color": "#111", "strokeWidth": 1, "clip": true},
     "encoding": {"x": {"field": "v", "type": "quantitative", "scale": {"domain": [200, 270], "nice": false, "zero": false}, "axis": {"orient": "bottom", "values": [200, 220, 240, 260], "ticks": true, "tickSize": 6, "labels": false, "title": null}},
                  "y": {"field": "t", "type": "quantitative", "scale": {"domain": [-0.0081, 0.0119], "nice": false, "zero": false}, "axis": {"orient": "left", "values": [-0.005, 0, 0.005, 0.01], "labelPadding": 6, "format": "~r", "title": null}}}},
    {"mark": {"type": "line", "strokeOpacity": 0}, "encoding": {"x": {"field": "v", "type": "quantitative", "axis": {"orient": "bottom", "values": [205, 210, 215, 225, 230, 235, 245, 250, 255, 265], "ticks": true, "tickSize": 3, "labels": false, "title": null}}, "y": {"field": "t", "type": "quantitative", "axis": null}}},
    {"data": {"values": [{}]}, "mark": {"type": "rule", "color": "#2f3fe0", "strokeDash": [4, 3], "strokeWidth": 1}, "encoding": {"x": {"datum": 234.5, "type": "quantitative", "axis": null}}},
    {"data": {"values": [{}]}, "mark": {"type": "text", "text": "C³⁶S(5−4)", "align": "right", "baseline": "middle", "dy": 13, "font": "Liberation Serif", "fontSize": 10.5, "color": "#000"}, "encoding": {"x": {"datum": 266.5, "type": "quantitative", "axis": null}, "y": {"datum": 0.0119, "type": "quantitative", "axis": null}}}
   ]},
  {"width": 240, "height": 96, "data": {"name": "c34_43"},
   "resolve": {"axis": {"x": "independent", "y": "independent"}},
   "layer": [
    {"mark": {"type": "line", "interpolate": "step", "color": "#111", "strokeWidth": 1, "clip": true},
     "encoding": {"x": {"field": "v", "type": "quantitative", "scale": {"domain": [200, 270], "nice": false, "zero": false}, "axis": {"orient": "bottom", "values": [200, 220, 240, 260], "ticks": true, "tickSize": 6, "labels": false, "title": null}},
                  "y": {"field": "t", "type": "quantitative", "scale": {"domain": [-0.0107, 0.044], "nice": false, "zero": false}, "axis": {"orient": "left", "values": [0, 0.02, 0.04], "labelPadding": 6, "format": "~r", "title": "Tmb (K)", "titlePadding": 4}}}},
    {"mark": {"type": "line", "strokeOpacity": 0}, "encoding": {"x": {"field": "v", "type": "quantitative", "axis": {"orient": "bottom", "values": [205, 210, 215, 225, 230, 235, 245, 250, 255, 265], "ticks": true, "tickSize": 3, "labels": false, "title": null}}, "y": {"field": "t", "type": "quantitative", "axis": null}}},
    {"mark": {"type": "line", "strokeOpacity": 0}, "encoding": {"x": {"field": "v", "type": "quantitative", "axis": {"orient": "top", "values": [200, 220, 240, 260], "ticks": true, "tickSize": 6, "labels": false, "title": null}}, "y": {"field": "t", "type": "quantitative", "axis": null}}},
    {"mark": {"type": "line", "strokeOpacity": 0}, "encoding": {"x": {"field": "v", "type": "quantitative", "axis": {"orient": "top", "values": [205, 210, 215, 225, 230, 235, 245, 250, 255, 265], "ticks": true, "tickSize": 3, "labels": false, "title": null}}, "y": {"field": "t", "type": "quantitative", "axis": null}}},
    {"data": {"name": "f_c34_43"}, "mark": {"type": "line", "interpolate": "monotone", "color": "#3db87a", "strokeWidth": 1.8}, "encoding": {"x": {"field": "v", "type": "quantitative", "axis": null}, "y": {"field": "t", "type": "quantitative", "axis": null}}},
    {"data": {"values": [{}]}, "mark": {"type": "rule", "color": "#2f3fe0", "strokeDash": [4, 3], "strokeWidth": 1}, "encoding": {"x": {"datum": 234.5, "type": "quantitative", "axis": null}}},
    {"data": {"values": [{}]}, "mark": {"type": "text", "text": "C³⁴S(4−3)", "align": "right", "baseline": "middle", "dy": 15, "font": "Liberation Serif", "fontSize": 10.5, "color": "#000"}, "encoding": {"x": {"datum": 266, "type": "quantitative", "axis": null}, "y": {"datum": 0.044, "type": "quantitative", "axis": null}}}
   ]},
  {"width": 240, "height": 96, "data": {"name": "c34_54"},
   "resolve": {"axis": {"x": "independent", "y": "independent"}},
   "layer": [
    {"mark": {"type": "line", "interpolate": "step", "color": "#111", "strokeWidth": 1, "clip": true},
     "encoding": {"x": {"field": "v", "type": "quantitative", "scale": {"domain": [200, 270], "nice": false, "zero": false}, "axis": {"orient": "bottom", "values": [200, 220, 240, 260], "ticks": true, "tickSize": 6, "labels": false, "title": null}},
                  "y": {"field": "t", "type": "quantitative", "scale": {"domain": [-0.0107, 0.044], "nice": false, "zero": false}, "axis": {"orient": "left", "values": [0, 0.02, 0.04], "labelPadding": 6, "format": "~r", "title": null}}}},
    {"mark": {"type": "line", "strokeOpacity": 0}, "encoding": {"x": {"field": "v", "type": "quantitative", "axis": {"orient": "bottom", "values": [205, 210, 215, 225, 230, 235, 245, 250, 255, 265], "ticks": true, "tickSize": 3, "labels": false, "title": null}}, "y": {"field": "t", "type": "quantitative", "axis": null}}},
    {"mark": {"type": "line", "strokeOpacity": 0}, "encoding": {"x": {"field": "v", "type": "quantitative", "axis": {"orient": "top", "values": [200, 220, 240, 260], "ticks": true, "tickSize": 6, "labels": false, "title": null}}, "y": {"field": "t", "type": "quantitative", "axis": null}}},
    {"mark": {"type": "line", "strokeOpacity": 0}, "encoding": {"x": {"field": "v", "type": "quantitative", "axis": {"orient": "top", "values": [205, 210, 215, 225, 230, 235, 245, 250, 255, 265], "ticks": true, "tickSize": 3, "labels": false, "title": null}}, "y": {"field": "t", "type": "quantitative", "axis": null}}},
    {"data": {"name": "f_c34_54"}, "mark": {"type": "line", "interpolate": "monotone", "color": "#3db87a", "strokeWidth": 1.8}, "encoding": {"x": {"field": "v", "type": "quantitative", "axis": null}, "y": {"field": "t", "type": "quantitative", "axis": null}}},
    {"data": {"values": [{}]}, "mark": {"type": "rule", "color": "#2f3fe0", "strokeDash": [4, 3], "strokeWidth": 1}, "encoding": {"x": {"datum": 234.5, "type": "quantitative", "axis": null}}},
    {"data": {"values": [{}]}, "mark": {"type": "text", "text": "C³⁴S(5−4)", "align": "right", "baseline": "middle", "dy": 15, "font": "Liberation Serif", "fontSize": 10.5, "color": "#000"}, "encoding": {"x": {"datum": 266, "type": "quantitative", "axis": null}, "y": {"datum": 0.044, "type": "quantitative", "axis": null}}}
   ]},
  {"width": 240, "height": 96, "data": {"name": "c13"},
   "resolve": {"axis": {"x": "independent", "y": "independent"}},
   "layer": [
    {"mark": {"type": "line", "interpolate": "step", "color": "#111", "strokeWidth": 1, "clip": true},
     "encoding": {"x": {"field": "v", "type": "quantitative", "scale": {"domain": [200, 270], "nice": false, "zero": false}, "axis": {"orient": "bottom", "values": [200, 220, 240, 260], "ticks": true, "tickSize": 6, "labels": false, "title": null}},
                  "y": {"field": "t", "type": "quantitative", "scale": {"domain": [-0.016, 0.02], "nice": false, "zero": false}, "axis": {"orient": "left", "values": [-0.01, 0, 0.01, 0.02], "labelPadding": 6, "format": "~r", "title": null}}}},
    {"mark": {"type": "line", "strokeOpacity": 0}, "encoding": {"x": {"field": "v", "type": "quantitative", "axis": {"orient": "bottom", "values": [205, 210, 215, 225, 230, 235, 245, 250, 255, 265], "ticks": true, "tickSize": 3, "labels": false, "title": null}}, "y": {"field": "t", "type": "quantitative", "axis": null}}},
    {"mark": {"type": "line", "strokeOpacity": 0}, "encoding": {"x": {"field": "v", "type": "quantitative", "axis": {"orient": "top", "values": [200, 220, 240, 260], "ticks": true, "tickSize": 6, "labels": false, "title": null}}, "y": {"field": "t", "type": "quantitative", "axis": null}}},
    {"mark": {"type": "line", "strokeOpacity": 0}, "encoding": {"x": {"field": "v", "type": "quantitative", "axis": {"orient": "top", "values": [205, 210, 215, 225, 230, 235, 245, 250, 255, 265], "ticks": true, "tickSize": 3, "labels": false, "title": null}}, "y": {"field": "t", "type": "quantitative", "axis": null}}},
    {"data": {"name": "f_c13"}, "mark": {"type": "line", "interpolate": "monotone", "color": "#3db87a", "strokeWidth": 1.8}, "encoding": {"x": {"field": "v", "type": "quantitative", "axis": null}, "y": {"field": "t", "type": "quantitative", "axis": null}}},
    {"data": {"values": [{}]}, "mark": {"type": "rule", "color": "#2f3fe0", "strokeDash": [4, 3], "strokeWidth": 1}, "encoding": {"x": {"datum": 234.5, "type": "quantitative", "axis": null}}},
    {"data": {"values": [{}]}, "mark": {"type": "text", "text": "¹³CS(5−4)", "align": "right", "baseline": "middle", "dy": 14, "font": "Liberation Serif", "fontSize": 10.5, "color": "#000"}, "encoding": {"x": {"datum": 266.5, "type": "quantitative", "axis": null}, "y": {"datum": 0.02, "type": "quantitative", "axis": null}}}
   ]},
  {"width": 240, "height": 96, "data": {"name": "c33_43"},
   "resolve": {"axis": {"x": "independent", "y": "independent"}},
   "layer": [
    {"mark": {"type": "line", "interpolate": "step", "color": "#111", "strokeWidth": 1, "clip": true},
     "encoding": {"x": {"field": "v", "type": "quantitative", "scale": {"domain": [200, 270], "nice": false, "zero": false}, "axis": {"orient": "bottom", "values": [200, 220, 240, 260], "labelPadding": 3, "labelFlush": false, "format": "~r", "title": "Velocity (km/s)", "titlePadding": 0}},
                  "y": {"field": "t", "type": "quantitative", "scale": {"domain": [-0.0117, 0.0241], "nice": false, "zero": false}, "axis": {"orient": "left", "values": [-0.01, 0, 0.01, 0.02], "labelPadding": 6, "format": "~r", "title": null}}}},
    {"mark": {"type": "line", "strokeOpacity": 0}, "encoding": {"x": {"field": "v", "type": "quantitative", "axis": {"orient": "top", "values": [200, 220, 240, 260], "ticks": true, "tickSize": 6, "labels": false, "title": null}}, "y": {"field": "t", "type": "quantitative", "axis": null}}},
    {"mark": {"type": "line", "strokeOpacity": 0}, "encoding": {"x": {"field": "v", "type": "quantitative", "axis": {"orient": "top", "values": [205, 210, 215, 225, 230, 235, 245, 250, 255, 265], "ticks": true, "tickSize": 3, "labels": false, "title": null}}, "y": {"field": "t", "type": "quantitative", "axis": null}}},
    {"data": {"name": "f_c33_43"}, "mark": {"type": "line", "interpolate": "monotone", "color": "#3db87a", "strokeWidth": 1.8}, "encoding": {"x": {"field": "v", "type": "quantitative", "axis": null}, "y": {"field": "t", "type": "quantitative", "axis": null}}},
    {"data": {"values": [{}]}, "mark": {"type": "rule", "color": "#2f3fe0", "strokeDash": [4, 3], "strokeWidth": 1}, "encoding": {"x": {"datum": 234.5, "type": "quantitative", "axis": null}}},
    {"data": {"name": "red43a"}, "mark": {"type": "rule", "color": "#ee2020", "strokeWidth": 1.2}, "encoding": {"x": {"field": "v", "type": "quantitative", "axis": null}, "y": {"field": "t", "type": "quantitative", "axis": null}, "y2": {"datum": 0}}},
    {"data": {"name": "red43b"}, "mark": {"type": "rule", "color": "#ee2020", "strokeWidth": 3}, "encoding": {"x": {"field": "v", "type": "quantitative", "axis": null}, "y": {"field": "t", "type": "quantitative", "axis": null}, "y2": {"datum": 0}}},
    {"data": {"name": "red43c"}, "mark": {"type": "rule", "color": "#ee2020", "strokeWidth": 2}, "encoding": {"x": {"field": "v", "type": "quantitative", "axis": null}, "y": {"field": "t", "type": "quantitative", "axis": null}, "y2": {"datum": 0}}},
    {"data": {"values": [{}]}, "mark": {"type": "text", "text": "C³³S(4−3)", "align": "right", "baseline": "middle", "dy": 13, "font": "Liberation Serif", "fontSize": 10.5, "color": "#000"}, "encoding": {"x": {"datum": 266, "type": "quantitative", "axis": null}, "y": {"datum": 0.0241, "type": "quantitative", "axis": null}}}
   ]},
  {"width": 240, "height": 96, "data": {"name": "c33_54"},
   "resolve": {"axis": {"x": "independent", "y": "independent"}},
   "layer": [
    {"mark": {"type": "line", "interpolate": "step", "color": "#111", "strokeWidth": 1, "clip": true},
     "encoding": {"x": {"field": "v", "type": "quantitative", "scale": {"domain": [200, 270], "nice": false, "zero": false}, "axis": {"orient": "bottom", "values": [200, 220, 240, 260], "labelPadding": 3, "labelFlush": false, "format": "~r", "title": "Velocity (km/s)", "titlePadding": 0}},
                  "y": {"field": "t", "type": "quantitative", "scale": {"domain": [-0.0117, 0.0241], "nice": false, "zero": false}, "axis": {"orient": "left", "values": [-0.01, 0, 0.01, 0.02], "labelPadding": 6, "format": "~r", "title": null}}}},
    {"mark": {"type": "line", "strokeOpacity": 0}, "encoding": {"x": {"field": "v", "type": "quantitative", "axis": {"orient": "top", "values": [200, 220, 240, 260], "ticks": true, "tickSize": 6, "labels": false, "title": null}}, "y": {"field": "t", "type": "quantitative", "axis": null}}},
    {"mark": {"type": "line", "strokeOpacity": 0}, "encoding": {"x": {"field": "v", "type": "quantitative", "axis": {"orient": "top", "values": [205, 210, 215, 225, 230, 235, 245, 250, 255, 265], "ticks": true, "tickSize": 3, "labels": false, "title": null}}, "y": {"field": "t", "type": "quantitative", "axis": null}}},
    {"data": {"name": "f_c33_54"}, "mark": {"type": "line", "interpolate": "monotone", "color": "#3db87a", "strokeWidth": 1.8}, "encoding": {"x": {"field": "v", "type": "quantitative", "axis": null}, "y": {"field": "t", "type": "quantitative", "axis": null}}},
    {"data": {"values": [{}]}, "mark": {"type": "rule", "color": "#2f3fe0", "strokeDash": [4, 3], "strokeWidth": 1}, "encoding": {"x": {"datum": 234.5, "type": "quantitative", "axis": null}}},
    {"data": {"name": "red54"}, "mark": {"type": "rule", "color": "#ee2020", "strokeWidth": 2}, "encoding": {"x": {"field": "v", "type": "quantitative", "axis": null}, "y": {"field": "t", "type": "quantitative", "axis": null}, "y2": {"datum": 0}}},
    {"data": {"values": [{}]}, "mark": {"type": "text", "text": "C³³S(5−4)", "align": "right", "baseline": "middle", "dy": 13, "font": "Liberation Serif", "fontSize": 10.5, "color": "#000"}, "encoding": {"x": {"datum": 266, "type": "quantitative", "axis": null}, "y": {"datum": 0.0241, "type": "quantitative", "axis": null}}}
   ]},
  {"width": 240, "height": 96, "data": {"name": "c1334"},
   "resolve": {"axis": {"x": "independent", "y": "independent"}},
   "layer": [
    {"mark": {"type": "line", "interpolate": "step", "color": "#111", "strokeWidth": 1, "clip": true},
     "encoding": {"x": {"field": "v", "type": "quantitative", "scale": {"domain": [200, 270], "nice": false, "zero": false}, "axis": {"orient": "bottom", "values": [200, 220, 240, 260], "labelPadding": 3, "labelFlush": false, "format": "~r", "title": "Velocity (km/s)", "titlePadding": 0}},
                  "y": {"field": "t", "type": "quantitative", "scale": {"domain": [-0.0079, 0.0121], "nice": false, "zero": false}, "axis": {"orient": "left", "values": [-0.005, 0, 0.005, 0.01], "labelPadding": 6, "format": "~r", "title": null}}}},
    {"mark": {"type": "line", "strokeOpacity": 0}, "encoding": {"x": {"field": "v", "type": "quantitative", "axis": {"orient": "top", "values": [200, 220, 240, 260], "ticks": true, "tickSize": 6, "labels": false, "title": null}}, "y": {"field": "t", "type": "quantitative", "axis": null}}},
    {"mark": {"type": "line", "strokeOpacity": 0}, "encoding": {"x": {"field": "v", "type": "quantitative", "axis": {"orient": "top", "values": [205, 210, 215, 225, 230, 235, 245, 250, 255, 265], "ticks": true, "tickSize": 3, "labels": false, "title": null}}, "y": {"field": "t", "type": "quantitative", "axis": null}}},
    {"data": {"values": [{}]}, "mark": {"type": "rule", "color": "#2f3fe0", "strokeDash": [4, 3], "strokeWidth": 1}, "encoding": {"x": {"datum": 234.5, "type": "quantitative", "axis": null}}},
    {"data": {"values": [{}]}, "mark": {"type": "text", "text": "¹³C³⁴S(5−4)", "align": "right", "baseline": "middle", "dy": 13, "font": "Liberation Serif", "fontSize": 10.5, "color": "#000"}, "encoding": {"x": {"datum": 267, "type": "quantitative", "axis": null}, "y": {"datum": 0.0121, "type": "quantitative", "axis": null}}}
   ]}
]
}
